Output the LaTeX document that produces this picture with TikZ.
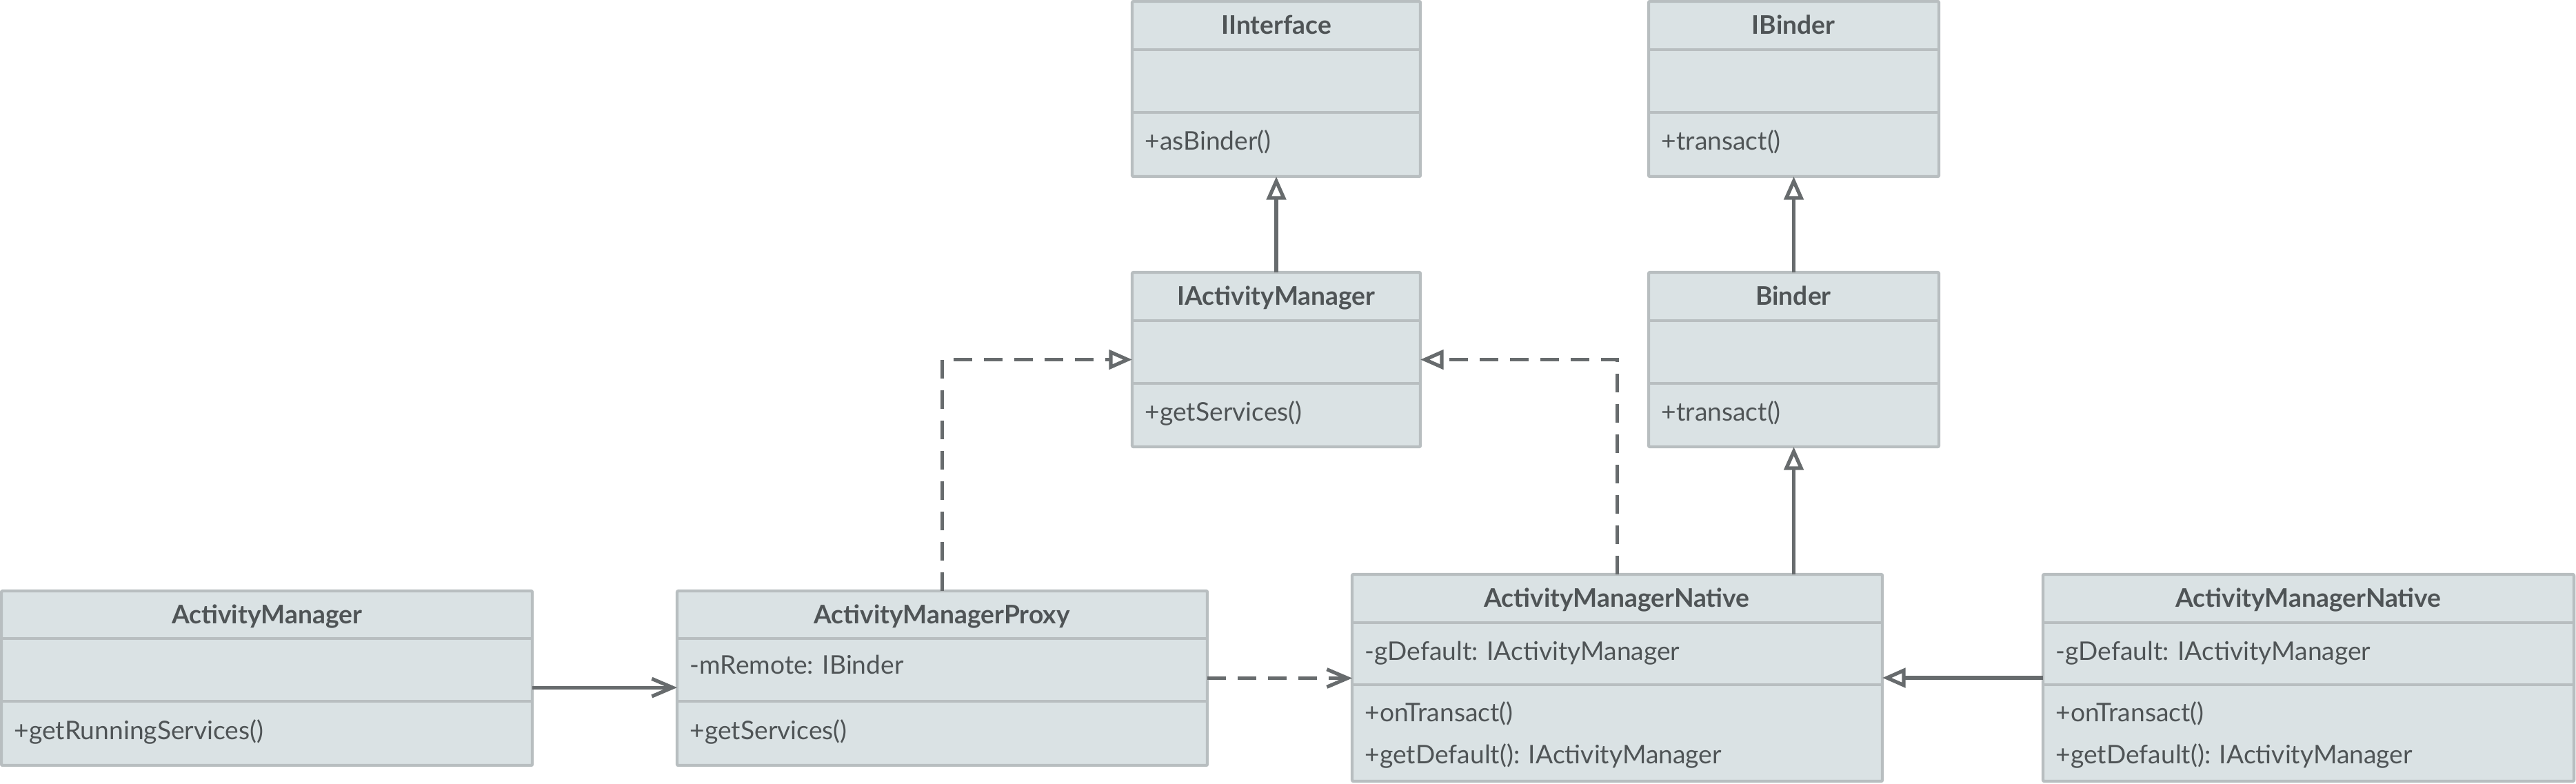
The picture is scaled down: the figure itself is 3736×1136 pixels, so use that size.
\documentclass[tikz,border=0pt]{standalone}
\usepackage{fontspec}
\setmainfont{Lato}
\usepackage{xcolor}
\usepackage{tikz}
\usetikzlibrary{positioning, arrows.meta}
\definecolor{classfill}{HTML}{DAE2E4}
\definecolor{classline}{HTML}{B8BEC0}
\definecolor{classtext}{HTML}{4F5456}
\definecolor{linkgray}{HTML}{676B6D}

\tikzset{
  classbox/.style={draw=classline, fill=classfill, line width=1.1pt,
                   inner sep=0pt, outer sep=0pt, rounded corners=0.5pt},
  classrule/.style={draw=classline, line width=1.1pt},
  classtitle/.style={anchor=base, inner sep=0pt, text=classtext,
                     font=\fontsize{9.3}{11}\selectfont\bfseries},
  member/.style={anchor=base west, inner sep=0pt, text=classtext,
                 font=\fontsize{9.3}{11}\selectfont},
  link/.style={draw=linkgray, line width=1.3pt},
  assoc/.style={link, -{Straight Barb[length=7.5pt, width=6.4pt]}},
  depend/.style={assoc, dash pattern=on 6.75pt off 4.25pt},
  inherit/.style={link, -{Triangle[open, length=8.4pt, width=7pt]}},
  realize/.style={inherit, dash pattern=on 6.75pt off 4.25pt}
}

% #1 name, #2 x, #3 y, #4 width, #5 title height, #6 attribute height, #7 total height
\newcommand{\classbox}[7]{%
  \node[classbox, anchor=north west,
        minimum width=#4*0.25pt, minimum height=#7*0.25pt] (#1) at (#2,#3) {};
  \draw[classrule] ([yshift=-#5*0.25pt]#1.north west)
    -- ([yshift=-#5*0.25pt]#1.north east);
  \draw[classrule] ([yshift=-#5*0.25pt-#6*0.25pt]#1.north west)
    -- ([yshift=-#5*0.25pt-#6*0.25pt]#1.north east);
}

\begin{document}
\begin{tikzpicture}[x=0.25pt, y=-0.25pt]
  \useasboundingbox (0,0) rectangle (3736,1136);

  % class boxes
  \classbox{iface}{1642}{2}{418}{70}{91}{254}
  \classbox{ibinder}{2391}{2}{421}{70}{91}{254}
  \classbox{iam}{1642}{395}{418}{70}{91}{253}
  \classbox{binder}{2391}{395}{421}{70}{91}{253}
  \classbox{am}{2}{857}{770}{69}{91}{253}
  \classbox{proxy}{982}{857}{769}{69}{91}{253}
  \classbox{amn}{1961}{833}{769}{70}{90}{300}
  \classbox{amnb}{2963}{833}{770}{70}{90}{300}

  % names
  \node[classtitle] (ifaceT) at (1851,49) {IInterface};
  \node[classtitle] (ibinderT) at (2601,49) {IBinder};
  \node[classtitle] (iamT) at (1851,442) {IActivityManager};
  \node[classtitle] (binderT) at (2601,442) {Binder};
  \node[classtitle] (amT) at (387,904) {ActivityManager};
  \node[classtitle] (proxyT) at (1366,904) {ActivityManagerProxy};
  \node[classtitle] (amnT) at (2345,880) {ActivityManagerNative};
  \node[classtitle] (amnbT) at (3348,880) {ActivityManagerNative};

  % members
  \node[member] (ifaceM) at (1660,217) {+asBinder()};
  \node[member] (ibinderM) at (2409,217) {+transact()};
  \node[member] (iamM) at (1660,610) {+getServices()};
  \node[member] (binderM) at (2409,610) {+transact()};
  \node[member] (amM) at (20,1072) {+getRunningServices()};
  \node[member] (proxyA) at (1000,977) {-mRemote: IBinder};
  \node[member] (proxyM) at (1000,1072) {+getServices()};
  \node[member] (amnA) at (1979,957) {-gDefault: IActivityManager};
  \node[member] (amnM1) at (1979,1046) {+onTransact()};
  \node[member] (amnM2) at (1979,1107) {+getDefault(): IActivityManager};
  \node[member] (amnbA) at (2981,957) {-gDefault: IActivityManager};
  \node[member] (amnbM1) at (2981,1046) {+onTransact()};
  \node[member] (amnbM2) at (2981,1107) {+getDefault(): IActivityManager};

  % relations
  \draw[assoc] ([yshift=-3.4pt]am.east) -- ([yshift=-3.4pt]proxy.west);
  \draw[depend] (proxy.east) -- (proxy.east -| amn.west);
  \draw[realize] (proxy.north) |- (iam.west);
  \draw[realize] (amn.north) |- (iam.east);
  \draw[inherit] (amn.north -| binder.south) -- (binder.south);
  \draw[inherit] (binder.north) -- (ibinder.south);
  \draw[inherit] (iam.north) -- (iface.south);
  \draw[inherit] (amnb.west) -- (amn.east);
\end{tikzpicture}
\end{document}
